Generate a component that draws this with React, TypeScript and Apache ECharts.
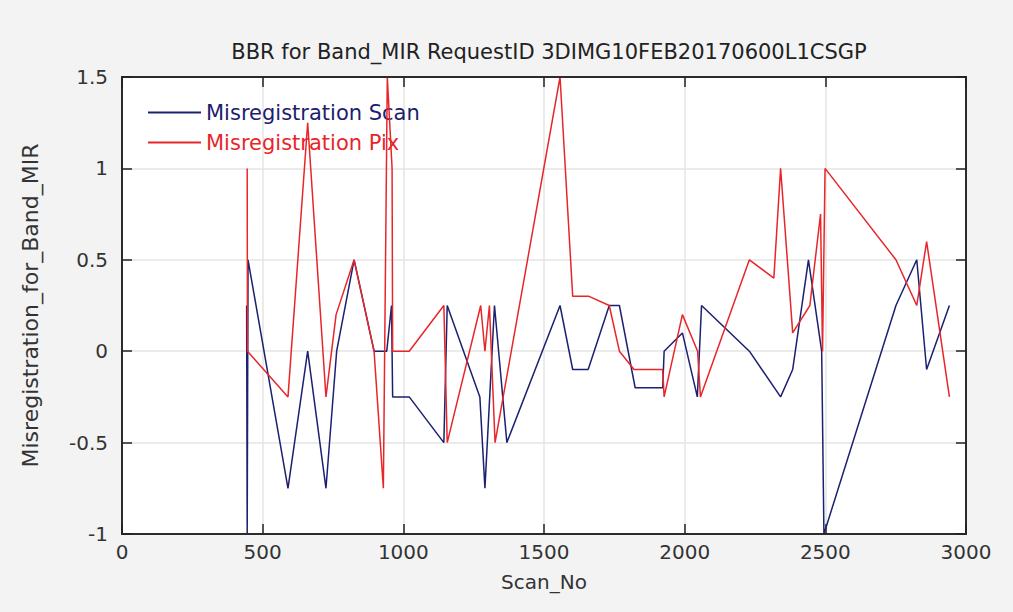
import React, { useEffect, useRef } from "react";
import * as echarts from "echarts";

const titleText = "BBR for Band_MIR RequestID 3DIMG10FEB20170600L1CSGP";
const xName = "Scan_No";
const yName = "Misregistration_for_Band_MIR";
const seriesNames = ["Misregistration Scan", "Misregistration Pix"];

const scanX = [443, 445, 448, 590, 660, 725, 763, 825, 896, 941, 958, 962, 1021, 1144, 1156, 1272, 1290, 1324, 1368, 1557, 1602, 1657, 1732, 1768, 1824, 1922, 1927, 1992, 2045, 2060, 2230, 2341, 2384, 2440, 2487, 2495, 2751, 2825, 2860, 2941];
const scanY = [0.25, -1, 0.5, -0.75, 0, -0.75, 0, 0.5, 0, 0, 0.25, -0.25, -0.25, -0.5, 0.25, -0.25, -0.75, 0.25, -0.5, 0.25, -0.1, -0.1, 0.25, 0.25, -0.2, -0.2, 0, 0.1, -0.25, 0.25, 0, -0.25, -0.1, 0.5, 0, -1, 0.25, 0.5, -0.1, 0.25];

const pixX = [445, 446, 590, 660, 725, 761, 825, 896, 929, 943, 960, 962, 1021, 1144, 1156, 1275, 1290, 1306, 1326, 1557, 1602, 1660, 1732, 1768, 1820, 1922, 1927, 1992, 2046, 2056, 2230, 2317, 2341, 2384, 2445, 2483, 2490, 2499, 2751, 2825, 2860, 2941];
const pixY = [1, 0, -0.25, 1.25, -0.25, 0.2, 0.5, 0, -0.75, 1.5, 1, 0, 0, 0.25, -0.5, 0.25, 0, 0.25, -0.5, 1.5, 0.3, 0.3, 0.25, 0, -0.1, -0.1, -0.25, 0.2, 0, -0.25, 0.5, 0.4, 1, 0.1, 0.25, 0.75, 0, 1, 0.5, 0.25, 0.6, -0.25];

const xMin = 0;
const xMax = 3000;
const yMin = -1;
const yMax = 1.5;

const scanColor = "#1c2070";
const pixColor = "#e8262a";

export default function App() {
  const ref = useRef<HTMLDivElement>(null);
  useEffect(() => {
    document.body.style.margin = "0";
    const chart = echarts.init(ref.current!, null, { renderer: "svg" });
    const scanData = scanX.map((x, i) => [x, scanY[i]]);
    const pixData = pixX.map((x, i) => [x, pixY[i]]);
    const font = "DejaVu Sans";
    const lineSt = { color: "#222", width: 1.5 };
    const axisCommon = {
      type: "value" as const,
      splitLine: { show: true, lineStyle: { color: "#e4e4e4", width: 1.5 } },
      axisLine: { show: true, onZero: false, lineStyle: lineSt },
      axisTick: { show: true, inside: true, length: 10, lineStyle: lineSt },
    };
    chart.setOption({
      animation: false,
      backgroundColor: "#f3f3f3",
      title: {
        text: titleText,
        left: 544,
        textAlign: "center",
        top: 36,
        textStyle: { fontFamily: font, fontSize: 21, fontWeight: "normal", color: "#222" },
      },
      legend: {
        orient: "vertical",
        left: 143,
        top: 97,
        icon: "rect",
        itemWidth: 53,
        itemHeight: 2,
        itemGap: 9,
        data: [
          { name: seriesNames[0], textStyle: { color: scanColor } },
          { name: seriesNames[1], textStyle: { color: pixColor } },
        ],
        textStyle: { fontFamily: font, fontSize: 21, lineHeight: 20 },
      },
      grid: {
        left: 122,
        right: 47,
        top: 77,
        bottom: 78,
        show: true,
        backgroundColor: "#ffffff",
        borderColor: "#222",
        borderWidth: 1.5,
      },
      xAxis: [
        {
          ...axisCommon,
          position: "bottom",
          min: xMin,
          max: xMax,
          interval: 500,
          name: xName,
          nameLocation: "middle",
          nameGap: 38,
          nameTextStyle: { fontFamily: font, fontSize: 20, color: "#333" },
          axisLabel: { fontFamily: font, fontSize: 20, color: "#333", margin: 8, formatter: (v: number) => String(v) },
        },
        {
          type: "value",
          position: "top",
          min: xMin,
          max: xMax,
          interval: 500,
          axisLine: { show: true, onZero: false, lineStyle: lineSt },
          axisTick: { show: true, inside: true, length: 10, lineStyle: lineSt },
          splitLine: { show: false },
          axisLabel: { show: false },
        },
      ],
      yAxis: [
        {
          ...axisCommon,
          position: "left",
          min: yMin,
          max: yMax,
          interval: 0.5,
          name: yName,
          nameLocation: "middle",
          nameGap: 81,
          nameTextStyle: { fontFamily: font, fontSize: 22, color: "#333" },
          axisLabel: { fontFamily: font, fontSize: 20, color: "#333", margin: 14, formatter: (v: number) => String(v) },
        },
        {
          type: "value",
          position: "right",
          min: yMin,
          max: yMax,
          interval: 0.5,
          axisLine: { show: true, onZero: false, lineStyle: lineSt },
          axisTick: { show: true, inside: true, length: 10, lineStyle: lineSt },
          splitLine: { show: false },
          axisLabel: { show: false },
        },
      ],
      series: [
        {
          name: seriesNames[0],
          type: "line",
          data: scanData,
          symbol: "none",
          lineStyle: { color: scanColor, width: 1.5 },
          itemStyle: { color: scanColor },
          z: 3,
        },
        {
          name: seriesNames[1],
          type: "line",
          data: pixData,
          symbol: "none",
          lineStyle: { color: pixColor, width: 1.5 },
          itemStyle: { color: pixColor },
          z: 4,
        },
        {
          name: "_frame",
          type: "line",
          data: [],
          xAxisIndex: 1,
          yAxisIndex: 1,
          symbol: "none",
          silent: true,
        },
      ],
    });
    const p0 = chart.convertToPixel({ gridIndex: 0 }, [xMin, yMax]) as number[];
    const p1 = chart.convertToPixel({ gridIndex: 0 }, [xMax, yMin]) as number[];
    if (p0 && p1) {
      chart.setOption({
        graphic: [
          {
            type: "rect",
            silent: true,
            z: 100,
            shape: { x: p0[0], y: p0[1], width: p1[0] - p0[0], height: p1[1] - p0[1] },
            style: { fill: "none", stroke: "#222", lineWidth: 1.5 },
          },
        ],
      });
    }
    return () => chart.dispose();
  }, []);
  return <div ref={ref} style={{ width: 1013, height: 612 }} />;
}
